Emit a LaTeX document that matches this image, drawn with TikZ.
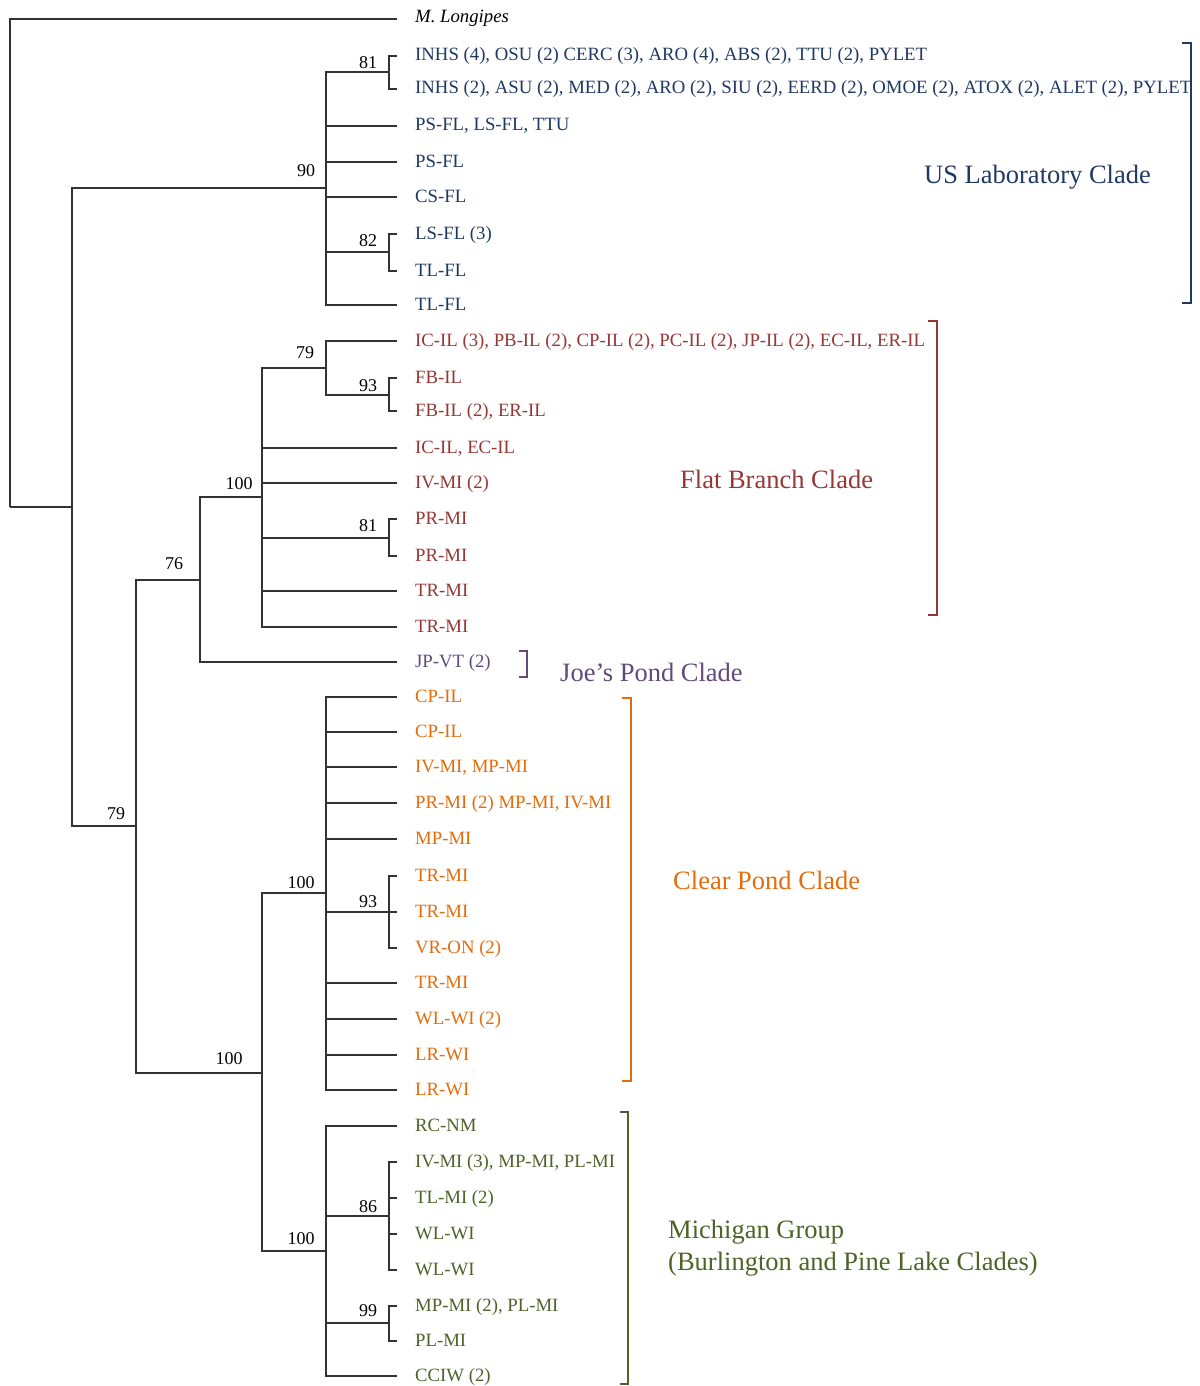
\documentclass[tikz,border=0pt]{standalone}
\usepackage{fontspec}
\setmainfont{Liberation Serif}
\definecolor{usblue}{RGB}{31,56,100}
\definecolor{fbred}{RGB}{149,55,53}
\definecolor{jppurple}{RGB}{96,74,123}
\definecolor{cporange}{RGB}{228,108,10}
\definecolor{migreen}{RGB}{79,98,40}
\begin{document}
\begin{tikzpicture}[x=1pt,y=-1pt,
  br/.style={draw=black!80, line width=1.3pt},
  leaf/.style={anchor=west, inner xsep=18pt, inner ysep=0pt, text height=1.1em, text depth=0.1em, font=\fontsize{18.75pt}{20pt}\selectfont},
  bs/.style={inner sep=0pt, font=\fontsize{18pt}{20pt}\selectfont, text=black},
  clade/.style={anchor=west, inner sep=0pt, align=left, font=\fontsize{26.5pt}{32pt}\selectfont},
  brk/.style={line width=1.8pt},
  us/.style={leaf, text=usblue},
  fb/.style={leaf, text=fbred},
  jp/.style={leaf, text=jppurple},
  cp/.style={leaf, text=cporange},
  mi/.style={leaf, text=migreen},
]
\useasboundingbox (0,0) rectangle (1199,1386);

% internal nodes
\coordinate (r) at (10,507);
\coordinate (nA) at (72,507);
\coordinate (nUS) at (326,188);
\coordinate (n81a) at (389,72);
\coordinate (n82) at (389,252);
\coordinate (nB) at (136,826);
\coordinate (n76) at (200,580);
\coordinate (nFB) at (262,497);
\coordinate (n79) at (326,368);
\coordinate (n93a) at (389,395);
\coordinate (n81b) at (389,538);
\coordinate (nC) at (262,1073);
\coordinate (nCP) at (326,893);
\coordinate (n93b) at (389,912);
\coordinate (nMI) at (326,1251);
\coordinate (n86) at (389,1216);
\coordinate (n99) at (389,1323);

% leaves
\node[leaf, text height=0.85em] (ml) at (397,19) {\itshape M. Longipes};
\node[us] (u1) at (397,56) {INHS (4), OSU (2) CERC (3), ARO (4), ABS (2), TTU (2), PYLET};
\node[us] (u2) at (397,89) {INHS (2), ASU (2), MED (2), ARO (2), SIU (2), EERD (2), OMOE (2), ATOX (2), ALET (2), PYLET};
\node[us] (u3) at (397,126) {PS-FL, LS-FL, TTU};
\node[us] (u4) at (397,162) {PS-FL};
\node[us] (u5) at (397,197) {CS-FL};
\node[us] (u6) at (397,234) {LS-FL (3)};
\node[us] (u7) at (397,271) {TL-FL};
\node[us] (u8) at (397,305) {TL-FL};

\node[fb] (f1) at (397,341) {IC-IL (3), PB-IL (2), CP-IL (2), PC-IL (2), JP-IL (2), EC-IL, ER-IL};
\node[fb] (f2) at (397,378) {FB-IL};
\node[fb] (f3) at (397,411) {FB-IL (2), ER-IL};
\node[fb] (f4) at (397,448) {IC-IL, EC-IL};
\node[fb] (f5) at (397,483) {IV-MI (2)};
\node[fb] (f6) at (397,519) {PR-MI};
\node[fb] (f7) at (397,556) {PR-MI};
\node[fb] (f8) at (397,591) {TR-MI};
\node[fb] (f9) at (397,627) {TR-MI};

\node[jp] (j1) at (397,662) {JP-VT (2)};

\node[cp] (c1) at (397,697) {CP-IL};
\node[cp] (c2) at (397,732) {CP-IL};
\node[cp] (c3) at (397,767) {IV-MI, MP-MI};
\node[cp] (c4) at (397,803) {PR-MI (2) MP-MI, IV-MI};
\node[cp] (c5) at (397,839) {MP-MI};
\node[cp] (c6) at (397,876) {TR-MI};
\node[cp] (c7) at (397,912) {TR-MI};
\node[cp] (c8) at (397,948) {VR-ON (2)};
\node[cp] (c9) at (397,983) {TR-MI};
\node[cp] (c10) at (397,1019) {WL-WI (2)};
\node[cp] (c11) at (397,1055) {LR-WI};
\node[cp] (c12) at (397,1090) {LR-WI};

\node[mi] (m1) at (397,1126) {RC-NM};
\node[mi] (m2) at (397,1162) {IV-MI (3), MP-MI, PL-MI};
\node[mi] (m3) at (397,1198) {TL-MI (2)};
\node[mi] (m4) at (397,1234) {WL-WI};
\node[mi] (m5) at (397,1270) {WL-WI};
\node[mi] (m6) at (397,1306) {MP-MI (2), PL-MI};
\node[mi] (m7) at (397,1341) {PL-MI};
\node[mi] (m8) at (397,1376) {CCIW (2)};

% tree
\draw[br] (r) |- (ml.west);
\draw[br] (r) -- (nA);
\draw[br] (nA) |- (nUS);
\draw[br] (nA) |- (nB);
\draw[br] (nUS) |- (n81a);
\draw[br] (n81a) |- (u1.west);
\draw[br] (n81a) |- (u2.west);
\draw[br] (nUS) |- (u3.west);
\draw[br] (nUS) |- (u4.west);
\draw[br] (nUS) |- (u5.west);
\draw[br] (nUS) |- (n82);
\draw[br] (n82) |- (u6.west);
\draw[br] (n82) |- (u7.west);
\draw[br] (nUS) |- (u8.west);

\draw[br] (nB) |- (n76);
\draw[br] (nB) |- (nC);
\draw[br] (n76) |- (nFB);
\draw[br] (n76) |- (j1.west);
\draw[br] (nFB) |- (n79);
\draw[br] (n79) |- (f1.west);
\draw[br] (n79) |- (n93a);
\draw[br] (n93a) |- (f2.west);
\draw[br] (n93a) |- (f3.west);
\draw[br] (nFB) |- (f4.west);
\draw[br] (nFB) |- (f5.west);
\draw[br] (nFB) |- (n81b);
\draw[br] (n81b) |- (f6.west);
\draw[br] (n81b) |- (f7.west);
\draw[br] (nFB) |- (f8.west);
\draw[br] (nFB) |- (f9.west);

\draw[br] (nC) |- (nCP);
\draw[br] (nC) |- (nMI);
\draw[br] (nCP) |- (c1.west);
\draw[br] (nCP) |- (c2.west);
\draw[br] (nCP) |- (c3.west);
\draw[br] (nCP) |- (c4.west);
\draw[br] (nCP) |- (c5.west);
\draw[br] (nCP) |- (n93b);
\draw[br] (n93b) |- (c6.west);
\draw[br] (n93b) |- (c7.west);
\draw[br] (n93b) |- (c8.west);
\draw[br] (nCP) |- (c9.west);
\draw[br] (nCP) |- (c10.west);
\draw[br] (nCP) |- (c11.west);
\draw[br] (nCP) |- (c12.west);

\draw[br] (nMI) |- (m1.west);
\draw[br] (nMI) |- (n86);
\draw[br] (n86) |- (m2.west);
\draw[br] (n86) |- (m3.west);
\draw[br] (n86) |- (m4.west);
\draw[br] (n86) |- (m5.west);
\draw[br] (nMI) |- (n99);
\draw[br] (n99) |- (m6.west);
\draw[br] (n99) |- (m7.west);
\draw[br] (nMI) |- (m8.west);

% bootstrap values
\node[bs] (b90) at (306,171) {90};
\node[bs] (b81a) at (368,63) {81};
\node[bs] (b82) at (368,241) {82};
\node[bs] (b79a) at (305,353) {79};
\node[bs] (b93a) at (368,386) {93};
\node[bs] (b100a) at (239,484) {100};
\node[bs] (b81b) at (368,526) {81};
\node[bs] (b76) at (174,564) {76};
\node[bs] (b79b) at (116,814) {79};
\node[bs] (b100b) at (301,883) {100};
\node[bs] (b93b) at (368,902) {93};
\node[bs] (b100c) at (229,1059) {100};
\node[bs] (b86) at (368,1207) {86};
\node[bs] (b100d) at (301,1239) {100};
\node[bs] (b99) at (368,1311) {99};

% clade brackets
\draw[brk, usblue] (1182,43) -- (1191,43) -- (1191,303) -- (1182,303);
\draw[brk, fbred] (928,321) -- (937,321) -- (937,615) -- (928,615);
\draw[brk, jppurple] (519,651) -- (527,651) -- (527,677) -- (519,677);
\draw[brk, cporange] (622,698) -- (631,698) -- (631,1081) -- (622,1081);
\draw[brk, migreen] (620,1112) -- (628,1112) -- (628,1384) -- (620,1384);

% clade labels
\node[clade, text=usblue] (cUS) at (924,177) {US Laboratory Clade};
\node[clade, text=fbred] (cFB) at (680,479) {Flat Branch Clade};
\node[clade, text=jppurple] (cJP) at (560,672) {Joe’s Pond Clade};
\node[clade, text=cporange] (cCP) at (673,880) {Clear Pond Clade};
\node[clade, text=migreen] (cMI) at (668,1248) {Michigan Group\\(Burlington and Pine Lake Clades)};
\end{tikzpicture}
\end{document}
